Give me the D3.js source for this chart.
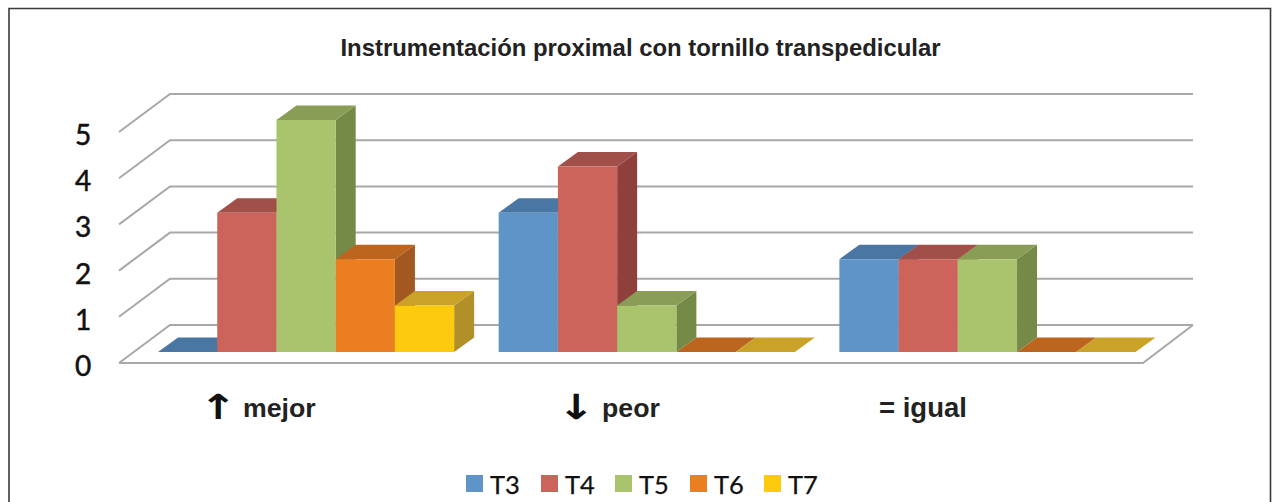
<!DOCTYPE html>
<html><head><meta charset="utf-8">
<script src="https://cdn.jsdelivr.net/npm/d3@7/dist/d3.min.js"></script>
<style>html,body{margin:0;padding:0;background:#fff}svg{display:block}</style>
</head><body><svg id="c" width="1274" height="502"></svg>
<script>
const categories = ["mejor","peor","igual"];
const categoryArrows = ["↑","↓",""];
const categoryLabels = ["mejor","peor","= igual"];
const seriesNames = ["T3","T4","T5","T6","T7"];
const T3 = [0,3,2];
const T4 = [3,4,2];
const T5 = [5,1,2];
const T6 = [2,0,0];
const T7 = [1,0,0];
const seriesValues = [T3,T4,T5,T6,T7];
const yTicks = [0,1,2,3,4,5];
const front = ["#5f94c9","#cc645c","#a9c46c","#ec7e22","#fdca0d"];
const topC = ["#4a76a3","#a04f49","#8a9d56","#bc651f","#cba228"];
const side = ["#3f6690","#8f403c","#768a47","#a25820","#b19029"];

const svg = d3.select("#c");
svg.append("path").attr("d","M9,520V8.5H1270.5V520").attr("fill","none").attr("stroke","#3a3a3a").attr("stroke-width",1.6);

const y = d3.scaleLinear().domain([0,5]).range([352,120]);
const wallY = d3.scaleLinear().domain([0,5]).range([325,94]);
const x0 = d3.scaleBand().domain(categories).range([136,1157.5]).paddingInner(0.1307).paddingOuter(0.0646);
const x1 = d3.scaleBand().domain(seriesNames).range([0,x0.bandwidth()]);
const dx = 20, dy = 14.5;
const wallDx = 51, wallDy = 38, backL = 170, backR = 1193;

const grid = svg.append("g").attr("fill","none").attr("stroke","#a8a8a8").attr("stroke-width",2);
yTicks.forEach(v=>{
  const yb = wallY(v);
  grid.append("path").attr("d",d3.line()([[backL-wallDx,yb+wallDy],[backL,yb],[backR,yb]]));
});
// floor
grid.append("path").attr("d",d3.line()([[backL-wallDx,wallY(0)+wallDy],[backR-wallDx+1,wallY(0)+wallDy],[backR,wallY(0)]]));

const poly = (pts,fill)=> svg.append("path").attr("d",d3.line()(pts)+"Z").attr("fill",fill);
categories.forEach((c,ci)=>{
  seriesNames.forEach((s,si)=>{
    const v = seriesValues[si][ci];
    const a = x0(c)+x1(s), b = a+x1.bandwidth(), t = y(v), base = y(0);
    if(v>0){
      poly([[b,t],[b+dx,t-dy],[b+dx,base-dy],[b,base]],side[si]);
    }
    poly([[a,t],[a+dx,t-dy],[b+dx,t-dy],[b,t]],topC[si]);
    if(v>0) poly([[a,t],[b,t],[b,base],[a,base]],front[si]);
  });
});

svg.append("g").selectAll("text").data(yTicks).join("text")
  .attr("x",83).attr("y",d=>wallY(d)+51)
  .attr("text-anchor","middle").attr("font-family","Lato").attr("font-size",28)
  .attr("fill","#111").attr("stroke","#111").attr("stroke-width",0.5).text(d=>d);

svg.append("text").attr("x",640.5).attr("y",56).attr("text-anchor","middle")
  .attr("font-family","'Liberation Sans'").attr("font-weight",700).attr("font-size",23.9).attr("fill","#222")
  .text("Instrumentación proximal con tornillo transpedicular");

const labelX = [243,602,879];
const arrowX = [218,576];
categoryLabels.forEach((l,i)=>{
  svg.append("text").attr("x",labelX[i]).attr("y",417).attr("font-family","'Liberation Sans'").attr("font-weight",700).attr("font-size",i==2?27.5:26.7).attr("fill","#222").text(l);
  if(categoryArrows[i]) svg.append("text").attr("transform",`translate(${arrowX[i]},419) scale(1.35,1.05)`).attr("text-anchor","middle").attr("font-family","'DejaVu Sans'").attr("font-weight",700).attr("font-size",33).attr("fill","#111").text(categoryArrows[i]);
});

const legX = [466,541,615,690,764];
seriesNames.forEach((s,i)=>{
  svg.append("rect").attr("x",legX[i]).attr("y",475).attr("width",17).attr("height",17).attr("fill",front[i]);
  svg.append("text").attr("x",legX[i]+24).attr("y",494).attr("font-family","Lato").attr("font-size",25.5).attr("fill","#111").attr("stroke","#111").attr("stroke-width",0.25).text(s);
});
</script></body></html>
